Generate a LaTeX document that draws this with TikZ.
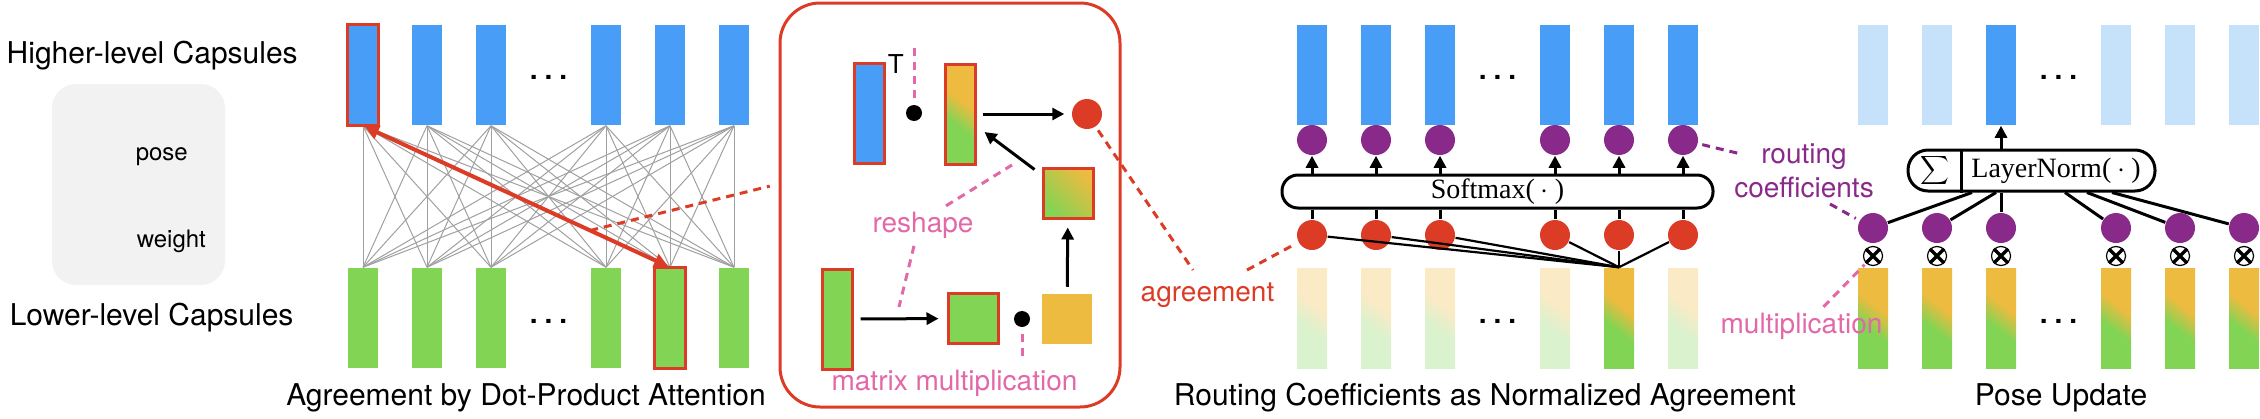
\documentclass[tikz,border=0pt]{standalone}
\usepackage{fontspec}
\setmainfont{TeX Gyre Heros}
\newfontfamily\normfont{Liberation Serif}
\usetikzlibrary{arrows.meta,calc,positioning}

\definecolor{capBlue}{RGB}{72,158,247}
\definecolor{capLight}{RGB}{198,225,250}
\definecolor{capGreen}{RGB}{130,212,84}
\definecolor{capOrange}{RGB}{236,187,64}
\definecolor{paleGreen}{RGB}{218,242,205}
\definecolor{paleOrange}{RGB}{250,234,198}
\definecolor{hiRed}{RGB}{220,59,38}
\definecolor{coefPurple}{RGB}{137,42,138}
\definecolor{notePink}{RGB}{226,104,168}
\definecolor{wireGray}{RGB}{160,160,160}
\definecolor{boxGray}{RGB}{242,242,242}

% bottom-to-top colour stops, fitted to the central 50bp
\pgfdeclareverticalshading{mixshade}{100bp}{color(0bp)=(capGreen); color(42bp)=(capGreen); color(58bp)=(capOrange); color(100bp)=(capOrange)}
\pgfdeclareverticalshading{paleshade}{100bp}{color(0bp)=(paleGreen); color(42bp)=(paleGreen); color(58bp)=(paleOrange); color(100bp)=(paleOrange)}

\newcommand{\capdots}{.\hspace{3.5pt}.\hspace{3.5pt}.}

\tikzset{every picture/.style={line width=0.75pt}}
\tikzset{
  bar/.style={rectangle, inner sep=0pt, minimum width=15pt, minimum height=50pt},
  hicap/.style={bar, fill=capBlue},
  dimcap/.style={bar, fill=capLight},
  locap/.style={bar, fill=capGreen},
  mixcap/.style={bar, shade, shading=mixshade, shading angle=-38},
  palecap/.style={bar, shade, shading=paleshade, shading angle=-38},
  tile/.style={rectangle, inner sep=0pt, minimum size=25pt},
  mixtile/.style={tile, top color=capOrange, bottom color=capGreen, shading angle=-45},
  picked/.style={draw=hiRed, line width=1.5pt},
  dot/.style={circle, fill=black, inner sep=0pt, minimum size=8pt},
  agree/.style={circle, fill=hiRed, inner sep=0pt, minimum size=15pt},
  coef/.style={circle, fill=coefPurple, inner sep=0pt, minimum size=15pt},
  mult/.style={circle, draw, line width=0.6pt, inner sep=0pt, minimum size=9.5pt},
  funcbox/.style={draw, line width=1.5pt, rounded corners=8pt, inner sep=0pt},
  wire/.style={wireGray, line width=0.5pt},
  pair/.style={hiRed, line width=2pt, {Triangle[length=7pt,width=7pt]}-{Triangle[length=7pt,width=7pt]}},
  flow/.style={line width=1.5pt, -{Triangle[length=6pt,width=6pt]}},
  stem/.style={line width=1.5pt},
  fan/.style={line width=1.1pt},
  pinkdash/.style={notePink, line width=1.5pt, dash pattern=on 4pt off 3pt},
  reddash/.style={hiRed, line width=1.5pt, dash pattern=on 4pt off 3pt},
  purpledash/.style={coefPurple, line width=1.5pt, dash pattern=on 4pt off 3pt},
  capfont/.style={inner sep=0pt, anchor=base, font=\fontsize{15}{18}\selectfont},
  note/.style={inner sep=0pt, anchor=base, text=notePink, font=\fontsize{14}{17}\selectfont},
  small/.style={inner sep=0pt, anchor=base west, font=\fontsize{12}{14}\selectfont},
  ellip/.style={inner sep=0pt, anchor=base, font=\bfseries\fontsize{14}{14}\selectfont}
}

\begin{document}
\begin{tikzpicture}[x=0.5pt,y=0.5pt,yscale=-1,xscale=1]
\useasboundingbox (0,0) rectangle (2260,418);

% Text Node
\node[capfont, anchor=base west] (hlabel) at (6,63) {Higher-level Capsules};
% Text Node
\node[capfont, anchor=base west] (llabel) at (9,325) {Lower-level Capsules};

%Rounded Rect
\node[fill=boxGray, rounded corners=12pt, minimum width=86.5pt, minimum height=100.5pt] (key) at (138.5,184.5) {};
\node[small] (posetxt) at (135,160) {pose};
\node[small] (weighttxt) at (136,247) {weight};

%Panel 1: dot-product attention
\foreach \x [count=\i] in {363,427,491,606,670,734} {
  \node[hicap] (h\i) at (\x,75) {};
  \node[locap] (l\i) at (\x,318) {};
}
\foreach \i in {1,...,6}
  \foreach \j in {1,...,6}
    \draw[wire] (h\i.south) -- (l\j.north);
\draw[picked] (h1.south west) rectangle (h1.north east);
\draw[picked] (l5.south west) rectangle (l5.north east);
\draw[pair, shorten <=1pt, shorten >=1pt] (h1.south) -- coordinate[pos=0.74] (amid) (l5.north);
\node[ellip] (dotsh) at (548.5,79) {\capdots};
\node[ellip] (dotsl) at (548.5,323) {\capdots};
\node[capfont] (cap1) at (526,405) {Agreement by Dot-Product Attention};

%Panel 2: zoomed box
\node[draw=hiRed, line width=1.5pt, rounded corners=20pt, minimum width=170pt, minimum height=202pt] (zbox) at (950,205) {};
\draw[reddash, shorten >=4.5pt] (amid) -- ($(zbox.west)+(0,-21)$);

\node[hicap, picked] (tq) at (869,113) {};
\node[inner sep=0pt, anchor=base west, font=\fontsize{13}{13}\selectfont] (tsup) at (887,73) {T};
\node[dot] (d1) at (914,113) {};
\node[mixcap, picked] (gq) at (960,114) {};
\node[agree] (za) at (1087,114) {};
\node[mixtile, picked] (sq) at (1068,193) {};
\node[locap, picked] (lq) at (837,319) {};
\node[tile, fill=capGreen, picked] (gsq) at (973,318.5) {};
\node[dot] (d2) at (1022,319) {};
\node[tile, fill=capOrange] (osq) at (1067,318.5) {};

\draw[flow, shorten <=3pt, shorten >=3.5pt] (gq) -- (za);
\draw[flow] ($(sq.north west)+(-7,3)$) -- ($(gq.east)+(8,18)$);
\draw[flow, shorten <=3pt, shorten >=4pt] (osq) -- (sq);
\draw[flow, shorten <=3.5pt, shorten >=4pt] (lq) -- (gsq);

% Text Node
\node[note] (rs) at (923,232) {reshape};
% Text Node
\node[note] (mm) at (954.5,390) {matrix multiplication};
\coordinate (tdot) at (914,45);
\coordinate (rsa) at (1012,165);
\coordinate (rsb) at (899,307);
\draw[pinkdash, shorten <=3pt] (d1) -- (tdot);
\draw[pinkdash, shorten <=3pt, shorten >=4pt] (d2) -- (d2 |- mm.north);
\draw[pinkdash] ($(rs.north)+(23,-5)$) -- (rsa);
\draw[pinkdash] ($(rs.south)+(-9,7)$) -- (rsb);

% Text Node
\node[note, text=hiRed] (agr) at (1207.5,301) {agreement};
\coordinate (agrA) at (1193,270);
\coordinate (agrB) at (1247,270);
\draw[reddash, shorten <=2pt] (za) -- (agrA);

%Panel 3: routing coefficients
\foreach \x/\s [count=\i] in {1312/palecap,1376/palecap,1440/palecap,1555/palecap,1619/mixcap,1683/palecap} {
  \node[hicap] (u\i) at (\x,75) {};
  \node[coef] (p\i) at (\x,140) {};
  \node[agree] (r\i) at (\x,235) {};
  \node[\s] (v\i) at (\x,318) {};
}
\node[funcbox, minimum width=215.5pt, minimum height=16.5pt] (smax) at (1497.5,191.5) {\normfont\fontsize{14}{14}\selectfont Softmax(\hspace{3pt}$\cdot$\hspace{3pt})};
\foreach \i in {1,...,6} {
  \draw[flow] (p\i |- smax.north) -- (p\i);
  \draw[stem] (r\i) -- (r\i |- smax.south);
  \draw[fan] (r\i) -- (v5.north);
}
\draw[reddash, shorten >=2pt] (agrB) -- (r1);
\node[ellip] (dotsu) at (1497.5,79) {\capdots};
\node[ellip] (dotsv) at (1497.5,323) {\capdots};
\node[capfont] (cap3) at (1485,405) {Routing Coefficients as Normalized Agreement};

%Panel 4: pose update
\foreach \x/\s [count=\i] in {1873/dimcap,1937/dimcap,2001/hicap,2116/dimcap,2180/dimcap,2244/dimcap} {
  \node[\s] (q\i) at (\x,75) {};
  \node[coef] (c\i) at (\x,228) {};
  \node[mult] (x\i) at (\x,256) {};
  \draw[line width=1.7pt] (x\i.45) -- (x\i.225) (x\i.135) -- (x\i.315);
  \node[mixcap] (w\i) at (\x,318) {};
}
\node[funcbox, rounded corners=10pt, minimum width=123.5pt, minimum height=20.5pt] (lnorm) at (2031.5,170.5) {};
\node[inner sep=0pt, font=\fontsize{10}{10}\selectfont] (sig) at (1935,170) {$\displaystyle\sum$};
\node[inner sep=0pt] (lntext) at (2056,171) {\normfont\fontsize{14}{14}\selectfont LayerNorm(\hspace{3pt}$\cdot$\hspace{3pt})};
\coordinate (cut) at (1961,170);
\draw[stem] (cut |- lnorm.north) -- (cut |- lnorm.south);
\draw[flow] (q3 |- lnorm.north) -- (q3);
\foreach \i/\dx in {1/-59.5,2/-35.5,3/-30.5,4/33.5,5/55.5,6/80.5}
  \draw[stem] (c\i) -- ($(lnorm.south)+(\dx,0)$);

% Text Node
\node[note] (mul) at (1801.5,333) {multiplication};
\draw[pinkdash, shorten >=1pt] ($(mul.north)+(22,-5)$) -- (x1);
% Text Node
\node[note, text=coefPurple, align=center, anchor=north] (rc) at (1804,143) {routing\\coefficients};
\coordinate (rcA) at (1741,154);
\coordinate (rcB) at (1830,204);
\draw[purpledash, shorten <=2pt] (p6) -- (rcA);
\draw[purpledash, shorten >=2pt] (rcB) -- (c1);

\node[ellip] (dotsq) at (2058.5,79) {\capdots};
\node[ellip] (dotsw) at (2058.5,323) {\capdots};
\node[capfont] (cap4) at (2061,405) {Pose Update};

\end{tikzpicture}
\end{document}
